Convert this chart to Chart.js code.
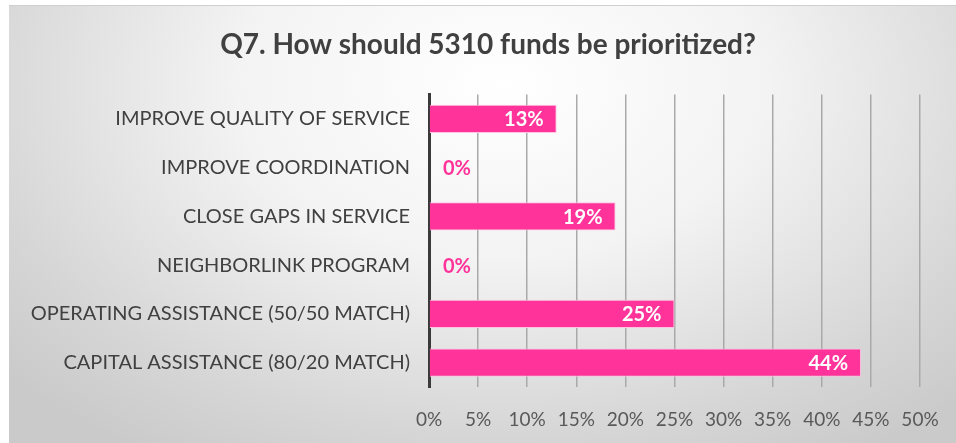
<!DOCTYPE html>
<html>
<head>
<meta charset="utf-8">
<title>Q7 funding priorities</title>
<script src="https://cdn.jsdelivr.net/npm/chart.js@4.4.1/dist/chart.umd.min.js"></script>
<style>
  html, body { margin: 0; padding: 0; background: #fff; }
  #frame {
    position: absolute; left: 9px; top: 5px; width: 947px; height: 438px;
    border-top: 1px solid #cfcfcf;
    background: radial-gradient(ellipse 70% 100% at 52% 18%, #ffffff 0%, #f3f3f3 40%, #d6d6d6 80%, #cacaca 100%);
  }
  #wrap { position: absolute; left: 0; top: 0; width: 956px; height: 443px; }
</style>
</head>
<body>
<div id="frame"></div>
<div id="wrap"><canvas id="chart"></canvas></div>
<script>
const categories = [
  'IMPROVE QUALITY OF SERVICE',
  'IMPROVE COORDINATION',
  'CLOSE GAPS IN SERVICE',
  'NEIGHBORLINK PROGRAM',
  'OPERATING ASSISTANCE (50/50 MATCH)',
  'CAPITAL ASSISTANCE (80/20 MATCH)'
];
const shares = [13, 0, 19, 0, 25, 44];   // percent of responses
const tickValues = [0, 5, 10, 15, 20, 25, 30, 35, 40, 45, 50];

const PINK = '#ff3399';
const FONT = 'Lato';

Chart.defaults.font.family = FONT;

// value labels: white inside the bar end, pink next to the axis for empty bars
const barValueLabels = {
  id: 'barValueLabels',
  afterDatasetsDraw(chart) {
    const ctx = chart.ctx;
    const meta = chart.getDatasetMeta(0);
    ctx.save();
    ctx.font = 'bold 20px ' + FONT;
    ctx.textBaseline = 'middle';
    meta.data.forEach((bar, i) => {
      const v = shares[i];
      const txt = Math.round(v) + '%';
      if (v > 0) {
        ctx.fillStyle = '#ffffff';
        ctx.textAlign = 'right';
        ctx.fillText(txt, bar.x - 13, bar.y + 1);
      } else {
        ctx.fillStyle = PINK;
        ctx.textAlign = 'left';
        ctx.fillText(txt, bar.base + 14, bar.y + 1);
      }
    });
    ctx.restore();
  }
};

new Chart(document.getElementById('chart'), {
  type: 'bar',
  data: {
    labels: categories,
    datasets: [{
      data: shares,
      backgroundColor: PINK,
      borderColor: '#ffc2e0',
      borderWidth: c => (c.raw > 0 ? 1 : 0),
      borderSkipped: 'start',
      barPercentage: 0.58,
      categoryPercentage: 1
    }]
  },
  options: {
    indexAxis: 'y',
    responsive: true,
    maintainAspectRatio: false,
    animation: false,
    layout: { padding: { left: 20, right: 0, top: 0, bottom: 0 } },
    plugins: {
      legend: { display: false },
      tooltip: { enabled: false },
      title: {
        display: true,
        text: 'Q7. How should 5310 funds be prioritized?',
        color: '#404040',
        font: { size: 28, weight: 'bold' },
        padding: { top: 28, bottom: 33 }
      }
    },
    scales: {
      x: {
        min: 0,
        max: 50,
        afterBuildTicks: s => { s.ticks = tickValues.map(v => ({ value: v })); },
        afterFit: s => { s.height = 56; s.paddingRight = 36; },
        ticks: {
          color: '#595959',
          font: { size: 19 },
          padding: 21,
          callback: v => v + '%'
        },
        grid: {
          color: c => (c.index === 0 ? 'rgba(0,0,0,0)' : '#a9a9a9'),
          lineWidth: 1.5,
          drawTicks: false
        },
        border: { display: false }
      },
      y: {
        afterFit: s => { s.width = 409; },
        ticks: {
          color: '#404040',
          font: { size: 20 },
          padding: 11
        },
        grid: { display: false },
        border: { display: true, color: '#3a3a3a', width: 3 }
      }
    }
  },
  plugins: [barValueLabels]
});
</script>
</body>
</html>
